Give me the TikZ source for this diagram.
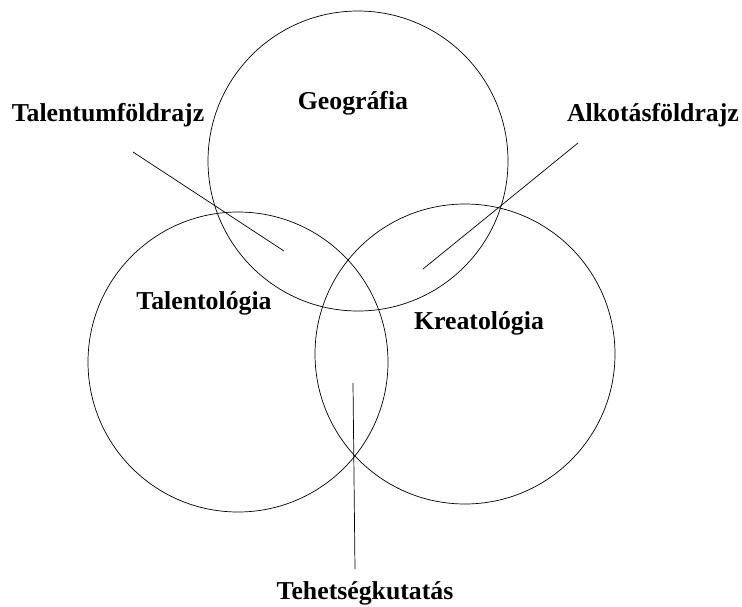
\documentclass[tikz,border=0pt]{standalone}
\usepackage{fontspec}
\setmainfont{Liberation Serif}
\usetikzlibrary{calc}
\tikzstyle{set}=[draw, line width=0.6pt]
\tikzstyle{lbl}=[inner sep=1pt, font=\fontsize{22}{24}\selectfont\bfseries]
\tikzstyle{lead}=[line width=0.6pt]

\begin{document}
\begin{tikzpicture}[x=0.03cm, y=-0.03cm]
    \useasboundingbox (0,0) rectangle (742,607);
    \coordinate (ctop) at (358,161);
    \coordinate (cleft) at (238,362);
    \coordinate (cright) at (465,354);
    \draw[set] (ctop) circle (150);
    \draw[set] (cleft) circle (150);
    \draw[set] (cright) circle (150);
    \node[lbl] (geo) at (353,103) {Geográfia};
    \node[lbl] (tal) at (204,303) {Talentológia};
    \node[lbl] (kre) at (479,323) {Kreatológia};
    \node[lbl] (tf) at (108,115) {Talentumföldrajz};
    \node[lbl] (af) at (653,115) {Alkotásföldrajz};
    \node[lbl] (tk) at (365,593) {Tehetségkutatás};
    \coordinate (tf0) at (133,152);
    \coordinate (tf1) at (284,251);
    \coordinate (af0) at (578,143);
    \coordinate (af1) at (423,269);
    \coordinate (tk0) at (355,569);
    \coordinate (tk1) at (353,383);
    \draw[lead] (tf0) -- (tf1);
    \draw[lead] (af0) -- (af1);
    \draw[lead] (tk0) -- (tk1);
\end{tikzpicture}
\end{document}
